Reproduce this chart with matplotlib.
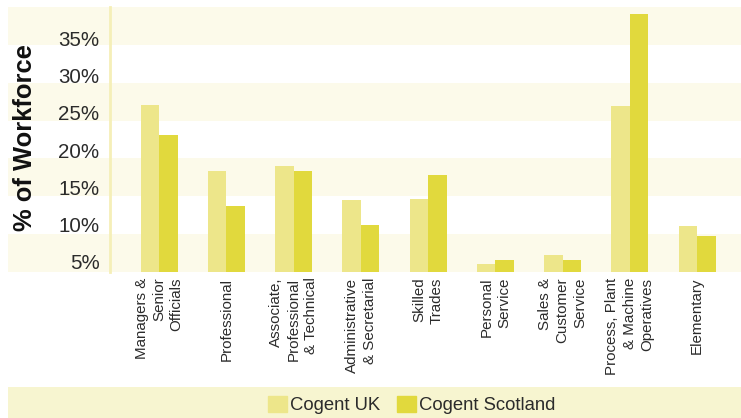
import matplotlib
matplotlib.use("Agg")
import matplotlib.pyplot as plt
from matplotlib.patches import Rectangle, Patch
from matplotlib.transforms import blended_transform_factory
import numpy as np

categories = ["Managers &\nSenior\nOfficials", "Professional",
              "Associate,\nProfessional\n& Technical",
              "Administrative\n& Secretarial", "Skilled\nTrades",
              "Personal\nService", "Sales &\nCustomer\nService",
              "Process, Plant\n& Machine\nOperatives", "Elementary"]
cogent_uk = [26.0, 17.2, 17.8, 13.3, 13.4, 4.7, 5.9, 25.9, 9.8]
cogent_scotland = [22.0, 12.5, 17.2, 9.9, 16.6, 5.2, 5.2, 38.2, 8.5]
yticks = [5, 10, 15, 20, 25, 30, 35]
ytick_labels = ["5%", "10%", "15%", "20%", "25%", "30%", "35%"]

C_UK = "#ede68a"
C_SC = "#e1d93d"
BAND = "#fcfaea"
TXT = "#2b2b2b"
FONT = "Liberation Sans"

W, H = 741, 418
fig = plt.figure(figsize=(W / 100, H / 100), dpi=100)
AX_L = 110
ax = fig.add_axes([AX_L / W, (H - 272) / H, (W - AX_L) / W, 265 / H])
ax.set_zorder(2)

ylo, yhi = 3.62, 39.2
ax.set_ylim(ylo, yhi)
x = np.arange(len(categories))
SP = 67.24
ax.set_xlim(-(159.2 - AX_L) / SP, (W - 159.2) / SP)

# background bands
step = (yhi - ylo) / 7
trans = blended_transform_factory(fig.transFigure, ax.transData)
for k in range(7):
    if k % 2 == 0:
        b0 = ylo + k * step
        ax.axhspan(b0, b0 + step, color=BAND, zorder=0, lw=0)
        fig.patches.append(Rectangle((8 / W, b0), (AX_L - 8) / W, step, transform=trans,
                                     color=BAND, lw=0, zorder=-1))

bw = 18.5 / SP
ax.bar(x - bw / 2, cogent_uk, width=bw, color=C_UK, zorder=2)
ax.bar(x + bw / 2, cogent_scotland, width=bw, color=C_SC, zorder=2)

for s in ["top", "right", "bottom"]:
    ax.spines[s].set_visible(False)
ax.spines["left"].set_color("#f5efb8")
ax.spines["left"].set_linewidth(2)
ax.spines["left"].set_zorder(3)

ax.set_yticks(yticks)
ax.set_yticklabels(ytick_labels, fontsize=14.8, color=TXT, family=FONT)
ax.set_xticks(x)
ax.set_xticklabels(categories, rotation=90, fontsize=10.9, color=TXT, family=FONT,
                   multialignment="right", linespacing=1.32)
ax.tick_params(axis="y", length=0, pad=7.5)
ax.tick_params(axis="x", length=0, pad=4)
ax.patch.set_alpha(0)

fig.text(25 / W, (H - 138) / H, "% of Workforce", rotation=90, ha="center", va="center",
         fontsize=18.4, fontweight="bold", family=FONT, color="#111111")

# legend band
fig.patches.append(Rectangle((8 / W, 0), (W - 8) / W, 31 / H, transform=fig.transFigure,
                             color="#f7f5d0", lw=0, zorder=-1))
handles = [Patch(color=C_UK, label="Cogent UK"), Patch(color=C_SC, label="Cogent Scotland")]
leg = fig.legend(handles=handles, loc="center", bbox_to_anchor=(411.5 / W, 13 / H), ncol=2,
                 frameon=False, handlelength=1.03, handleheight=1.0, handletextpad=0.16,
                 columnspacing=0.9, prop={"family": FONT, "size": 13.3})
for t in leg.get_texts():
    t.set_color(TXT)

fig.savefig("out.png", dpi=100)
